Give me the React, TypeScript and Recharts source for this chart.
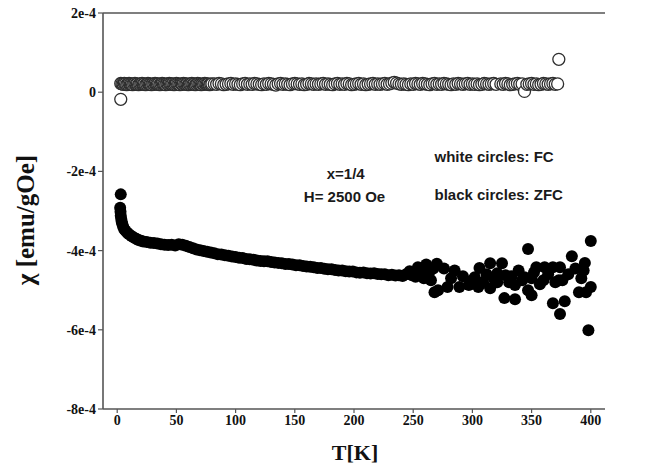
import React from 'react';
import { ScatterChart, Scatter, XAxis, YAxis, ReferenceLine, ReferenceDot } from 'recharts';

// Field-cooled susceptibility (white circles), chi in units of 1e-4 emu/gOe
const fcTemp = [
  3, 3, 4, 5, 6, 7, 8, 9, 10, 11, 12, 13, 14, 15, 16, 17, 18, 19, 20,
  21, 22, 23, 24, 25, 26, 27, 28, 29, 30, 31, 32, 33, 34, 35, 36, 37, 38, 39, 40,
  41, 42, 43, 44, 45, 46, 47, 48, 49, 50, 51, 52, 53, 54, 55, 56, 57, 58, 59, 60,
  61, 62, 63, 64, 65, 66, 67, 68, 69, 70, 71, 72, 73, 74, 75, 76, 77, 78, 79, 80,
  82, 84, 86, 88, 90, 92, 94, 96, 98, 100,
  102, 104, 106, 108, 110, 112, 114, 116, 118, 120,
  122, 124, 126, 128, 130, 132, 134, 136, 138, 140,
  142, 144, 146, 148, 150, 152, 154, 156, 158, 160,
  162, 164, 166, 168, 170, 172, 174, 176, 178, 180,
  182, 184, 186, 188, 190, 192, 194, 196, 198, 200,
  202, 204, 206, 208, 210, 212, 214, 216, 218, 220,
  222, 224, 226, 228, 230, 232, 234, 236, 238, 240,
  242, 244, 246, 248, 250, 252, 254, 256, 258, 260,
  262, 264, 266, 268, 270, 272, 274, 276, 278, 280,
  282, 284, 286, 288, 290, 292, 294, 296, 298, 300,
  302, 304, 306, 308, 310, 312, 314, 316, 318, 320,
  324, 326, 328, 330, 332, 334, 336, 338, 340, 342,
  344, 346, 348, 350, 352, 354, 356, 358, 360, 362,
  364, 366, 368, 370, 372, 373,
];
const fcChi = [
  0.22, -0.18, 0.21, 0.2, 0.22, 0.21, 0.19, 0.2, 0.22, 0.21, 0.2, 0.19, 0.21, 0.22, 0.2, 0.21, 0.19, 0.2, 0.21,
  0.22, 0.2, 0.21, 0.19, 0.2, 0.22, 0.21, 0.2, 0.19, 0.21, 0.2, 0.22, 0.21, 0.2, 0.21, 0.19, 0.2, 0.22, 0.21, 0.2,
  0.19, 0.21, 0.2, 0.22, 0.21, 0.2, 0.21, 0.19, 0.2, 0.22, 0.21, 0.2, 0.19, 0.21, 0.2, 0.22, 0.21, 0.2, 0.21, 0.19,
  0.2, 0.21, 0.22, 0.2, 0.21, 0.19, 0.2, 0.22, 0.21, 0.2, 0.19, 0.21, 0.2, 0.22, 0.21, 0.2, 0.21, 0.19, 0.2, 0.21,
  0.21, 0.2, 0.22, 0.21, 0.19, 0.2, 0.21, 0.22, 0.2, 0.21,
  0.2, 0.19, 0.21, 0.22, 0.2, 0.21, 0.2, 0.22, 0.21, 0.2,
  0.19, 0.21, 0.2, 0.22, 0.21, 0.2, 0.18, 0.21, 0.22, 0.2,
  0.21, 0.2, 0.19, 0.21, 0.22, 0.21, 0.2, 0.21, 0.19, 0.2,
  0.22, 0.21, 0.2, 0.21, 0.2, 0.21, 0.22, 0.2, 0.21, 0.2,
  0.19, 0.21, 0.22, 0.2, 0.21, 0.2, 0.22, 0.21, 0.19, 0.2,
  0.21, 0.22, 0.2, 0.21, 0.19, 0.2, 0.21, 0.22, 0.2, 0.21,
  0.2, 0.21, 0.22, 0.2, 0.21, 0.23, 0.25, 0.23, 0.21, 0.2,
  0.21, 0.2, 0.19, 0.21, 0.2, 0.22, 0.21, 0.2, 0.22, 0.21,
  0.2, 0.19, 0.21, 0.22, 0.2, 0.21, 0.2, 0.22, 0.21, 0.2,
  0.19, 0.21, 0.2, 0.22, 0.21, 0.2, 0.21, 0.22, 0.2, 0.21,
  0.2, 0.21, 0.19, 0.2, 0.22, 0.21, 0.2, 0.21, 0.22, 0.2,
  0.21, 0.2, 0.22, 0.21, 0.19, 0.2, 0.21, 0.22, 0.2, 0.21,
  0.02, 0.2, 0.21, 0.22, 0.2, 0.21, 0.19, 0.2, 0.22, 0.21,
  0.2, 0.21, 0.22, 0.2, 0.21, 0.83,
];

// Zero-field-cooled susceptibility (black circles), chi in units of 1e-4 emu/gOe
const zfcTemp = [
  3, 2.5, 2.8, 3, 3.4, 3.8, 4.3, 5, 6, 7,
  8.5, 10, 12, 14, 16, 18, 20, 22, 25, 28,
  31, 34, 37, 40, 43, 46, 49, 52, 55, 58,
  61, 64, 67, 70, 73, 76, 79, 82, 85, 88,
  91, 94, 97, 100, 103, 106, 109, 112, 115, 118,
  121, 124, 127, 130, 133, 136, 139, 142, 145, 148,
  151, 154, 157, 160, 163, 166, 169, 172, 175, 178,
  181, 184, 187, 190, 193, 196, 199, 202, 205, 208,
  211, 214, 217, 220, 223, 226, 229, 232, 235, 238,
  241, 244, 247, 249, 252, 254, 257, 259, 261, 263,
  265, 267, 268, 270, 271, 276, 279, 282, 285, 289,
  292, 297, 300, 302, 305, 306, 309, 312, 315, 315,
  318, 321, 321, 325, 327, 328, 331, 333, 336, 336,
  339, 342, 344, 347, 347, 350, 350, 352, 354, 357,
  360, 361, 364, 368, 368, 370, 373, 374, 374, 376,
  378, 381, 384, 387, 390, 392, 394, 395, 396, 398,
  400, 400,
];
const zfcChi = [
  -2.58, -2.92, -3.02, -3.12, -3.2, -3.27, -3.33, -3.4, -3.46, -3.5,
  -3.55, -3.59, -3.63, -3.67, -3.7, -3.73, -3.75, -3.77, -3.78, -3.8,
  -3.81, -3.82, -3.84, -3.85, -3.86, -3.85, -3.87, -3.84, -3.85, -3.88,
  -3.91, -3.94, -3.97, -3.99, -4.01, -4.03, -4.05, -4.07, -4.09, -4.1,
  -4.12, -4.13, -4.15, -4.16, -4.18, -4.19, -4.21, -4.22, -4.23, -4.25,
  -4.26, -4.27, -4.27, -4.29, -4.3, -4.31, -4.32, -4.34, -4.34, -4.35,
  -4.37, -4.37, -4.39, -4.4, -4.41, -4.42, -4.44, -4.44, -4.46, -4.47,
  -4.47, -4.49, -4.5, -4.5, -4.52, -4.53, -4.53, -4.55, -4.56, -4.55,
  -4.57, -4.58, -4.57, -4.59, -4.6, -4.6, -4.62, -4.61, -4.63, -4.62,
  -4.64, -4.6, -4.52, -4.62, -4.66, -4.42, -4.55, -4.7, -4.35, -4.6,
  -4.75, -4.45, -5.05, -4.33, -5.0, -4.45, -4.92, -4.7, -4.5, -4.92,
  -4.65, -4.87, -4.75, -4.67, -4.92, -4.44, -4.8, -4.6, -4.32, -4.95,
  -4.7, -4.57, -4.8, -4.32, -5.2, -4.62, -4.8, -4.65, -4.87, -5.23,
  -4.5, -4.75, -4.67, -3.96, -5.0, -4.7, -5.13, -4.55, -4.42, -4.85,
  -4.75, -4.42, -4.6, -4.42, -5.33, -4.8, -4.75, -4.42, -5.6, -4.75,
  -5.28, -4.6, -4.14, -4.45, -5.05, -4.7, -4.5, -4.31, -5.05, -6.01,
  -4.92, -3.76,
];

const tempTicks = [0, 50, 100, 150, 200, 250, 300, 350, 400];
const chiTicks = [2, 0, -2, -4, -6, -8];
const chiTickLabels = ['2e-4', '0', '-2e-4', '-4e-4', '-6e-4', '-8e-4'];

const fcData = fcTemp.map((t, i) => ({ t, chi: fcChi[i] }));
const zfcData = zfcTemp.map((t, i) => ({ t, chi: zfcChi[i] }));

const serif = '"Liberation Serif", "Times New Roman", serif';
const sans = '"Liberation Sans", Arial, sans-serif';
const axisColor = '#555';

const noteStyle = { fontFamily: sans, fontWeight: 700, fontSize: 15, fill: '#1a1a1a' };
const tickStyle = { fontFamily: serif, fontWeight: 700, fontSize: 14, fill: '#111' };

const OpenCircle = (p: any) => (
  <circle cx={p.cx} cy={p.cy} r={6} fill="#fff" stroke="#2e2e2e" strokeWidth={1.3} />
);
const FilledCircle = (p: any) => <circle cx={p.cx} cy={p.cy} r={6} fill="#000" />;

export default function App() {
  return (
    <div style={{ position: 'absolute', left: 0, top: 0, width: 651, height: 467, background: '#fff' }}>
      <ScatterChart width={651} height={467} margin={{ top: 13, right: 46, bottom: 0, left: 43 }}>
        <XAxis
          type="number"
          dataKey="t"
          domain={[-12, 412]}
          ticks={tempTicks}
          allowDataOverflow
          height={58}
          tickSize={4}
          axisLine={{ stroke: axisColor, strokeWidth: 1.6 }}
          tickLine={{ stroke: axisColor, strokeWidth: 1.2 }}
          tick={tickStyle}
        />
        <YAxis
          type="number"
          dataKey="chi"
          domain={[-8, 2]}
          ticks={chiTicks}
          allowDataOverflow
          width={60}
          tickSize={5}
          tickFormatter={(v: number) => chiTickLabels[chiTicks.indexOf(v)]}
          axisLine={{ stroke: axisColor, strokeWidth: 1.6 }}
          tickLine={{ stroke: axisColor, strokeWidth: 1.2 }}
          tick={tickStyle}
        />
        <ReferenceLine y={2} stroke={axisColor} strokeWidth={1.6} ifOverflow="visible" />
        <Scatter data={fcData} shape={OpenCircle} isAnimationActive={false} />
        <Scatter data={zfcData} shape={FilledCircle} isAnimationActive={false} />
        <ReferenceDot x={193} y={-2.05} r={0} stroke="none" fill="none"
          label={{ value: 'x=1/4', position: 'center', style: noteStyle }} />
        <ReferenceDot x={192} y={-2.63} r={0} stroke="none" fill="none"
          label={{ value: 'H= 2500 Oe', position: 'center', style: noteStyle }} />
        <ReferenceDot x={268} y={-1.64} r={0} stroke="none" fill="none"
          label={{ value: 'white circles: FC', position: 'right', offset: 0, style: noteStyle }} />
        <ReferenceDot x={268} y={-2.58} r={0} stroke="none" fill="none"
          label={{ value: 'black circles: ZFC', position: 'right', offset: 0, style: noteStyle }} />
        <text x={355} y={460} textAnchor="middle" fontFamily={serif} fontWeight={700} fontSize={22} fill="#111">
          T[K]
        </text>
        <text transform="translate(34,220) rotate(-90)" textAnchor="middle" fontFamily={serif} fontWeight={700} fontSize={25} fill="#111">
          χ [emu/gOe]
        </text>
      </ScatterChart>
    </div>
  );
}
